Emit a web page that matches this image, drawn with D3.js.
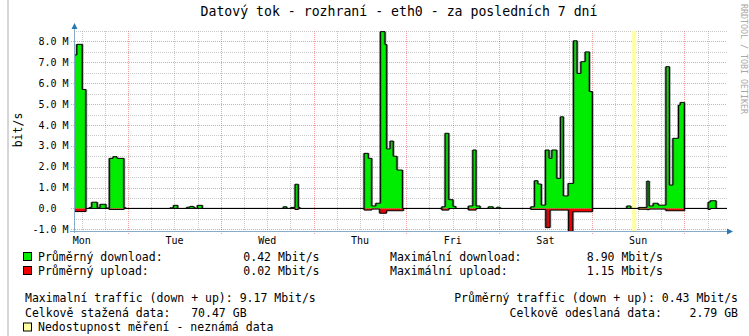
<!DOCTYPE html>
<html>
<head>
<meta charset="utf-8">
<script src="https://cdn.jsdelivr.net/npm/d3@7"></script>
<style>
  html, body { margin: 0; padding: 0; background: #ffffff; }
  svg { display: block; font-family: "DejaVu Sans Mono", monospace; }
  text { white-space: pre; }
</style>
</head>
<body>
<svg id="chart" width="749" height="336"></svg>
<script>
// Traffic on eth0 over the last 7 days, hours counted from Monday 00:00.
// Each entry is [hour, Mbit/s]; the value holds until the next entry.
const download = [
  [10.0, 7.35], [10.7, 7.86], [12.15, 5.7], [13.1, 0], [13.96, 0.05], [14.58, 0.3],
  [16.03, 0.03], [16.73, 0.2], [18.28, 0.02], [19.14, 2.4], [20.1, 2.48], [21.13, 2.4],
  [22.94, 0.03], [23.46, 0],
  [34.85, 0.03], [35.76, 0.15], [36.84, 0], [39.17, 0.06], [40.03, 0.1], [40.88, 0.06],
  [41.32, 0], [41.92, 0.15], [43.21, 0],
  [64.18, 0.08], [65.06, 0], [66.1, 0.05], [67.21, 1.16], [68.06, 0.05], [68.5, 0],
  [85.07, 2.64], [86.18, 2.4], [87.06, 0.12], [88.1, 0.25], [89.29, 8.47], [90.5, 7.85],
  [90.94, 2.85], [91.8, 3.23], [92.65, 2.5], [93.61, 1.84], [95.03, 0],
  [105.19, 0.08], [106.04, 3.6], [107.0, 0.42], [108.11, 0.1], [108.81, 0],
  [112.07, 0.12], [113.21, 2.8], [114.06, 0.12], [115.1, 0], [117.25, 0.08], [118.47, 0],
  [119.42, 0.06], [120.28, 0],
  [128.22, 0.08], [129.16, 1.33], [130.04, 1.17], [130.97, 0.16], [132.0, 2.8], [132.96, 2.4],
  [133.66, 2.8], [134.96, 1.44], [135.89, 4.39], [136.67, 0.6], [137.88, 1.2], [139.25, 8.03],
  [140.21, 6.47], [141.17, 7.03], [142.28, 7.5], [143.4, 5.6], [144.17, 0],
  [153.07, 0.12], [154.11, 0], [156.09, 0.05], [158.26, 1.31], [158.85, 0.12], [159.89, 0.25],
  [161.18, 0.16], [163.18, 6.79], [164.11, 1.12], [164.99, 3.36], [166.44, 4.95], [166.9, 5.08],
  [167.99, 0], [174.12, 0.3], [174.64, 0.37], [176.19, 0]
];

const upload = [
  [10.0, 0.15], [13.1, 0], [19.14, 0.05], [22.94, 0],
  [67.21, 0.05], [68.06, 0],
  [85.07, 0.08], [87.06, 0.03], [89.12, 0.23], [90.86, 0.11], [95.24, 0],
  [105.19, 0.08], [107.0, 0], [112.07, 0.08], [114.06, 0],
  [128.22, 0.05], [132.1, 0.92], [133.2, 0.08], [138.0, 1.15], [139.1, 0.16], [144.17, 0],
  [156.09, 0.04], [158.26, 0.06], [158.85, 0.03], [163.18, 0.11], [167.99, 0],
  [174.12, 0.05], [174.64, 0]
];

// Hours with no measurement
const unknown = [[154.45, 155.5]];

const dayLabels = ["Mon", "Tue", "Wed", "Thu", "Fri", "Sat", "Sun"];
const yTicks = [-1, 0, 1, 2, 3, 4, 5, 6, 7, 8];

const statLabels = {
  avgDown: "0.42 Mbit/s", avgUp: "0.02 Mbit/s",
  maxDown: "8.90 Mbit/s", maxUp: "1.15 Mbit/s",
  maxTotal: "9.17 Mbit/s", avgTotal: "0.43 Mbit/s",
  sumDown: "70.47 GB", sumUp: "2.79 GB"
};

const svg = d3.select("#chart");
const plot = { left: 74, right: 727, top: 31, bottom: 231 };

const x = d3.scaleLinear().domain([10, 179]).range([plot.left, plot.right]);
const y = d3.scaleLinear().domain([-1.08, 8.5]).range([plot.bottom, plot.top]);

const C = {
  minor: "rgba(128,128,128,0.42)",
  major: "rgba(230,0,0,0.38)",
  axis: "#86aac8",
  arrow: "#2a78b2",
  down: "#00ec00",
  up: "#f00000",
  unknown: "#ffffa0"
};

// frame line on the left edge
svg.append("rect").attr("x", 7).attr("y", 0).attr("width", 2).attr("height", 336).attr("fill", "#d6d6d6");

// title
svg.append("text").attr("x", 399).attr("y", 16).attr("text-anchor", "middle")
  .attr("font-size", 13.2).attr("fill", "#000")
  .text("Datový tok - rozhraní - eth0 - za posledních 7 dní");

// watermark
svg.append("text").attr("transform", "translate(741,4) rotate(90)")
  .attr("font-size", 8.3).attr("fill", "#a8a8a8")
  .text("RRDTOOL / TOBI OETIKER");

// unit label
svg.append("text").attr("transform", "translate(22,130) rotate(-90)")
  .attr("text-anchor", "middle").attr("font-size", 11.5).attr("fill", "#000")
  .text("bit/s");

// grid
const grid = svg.append("g");
const px = v => Math.round(v) + 0.5;
for (let h = 12; h <= 178; h += 6) {
  const major = h % 24 === 0;
  grid.append("line")
    .attr("x1", px(x(h))).attr("x2", px(x(h)))
    .attr("y1", plot.top).attr("y2", plot.bottom + (major ? 3 : 0))
    .attr("stroke", major ? C.major : C.minor)
    .attr("stroke-dasharray", "1,1");
}
for (let v = -1; v <= 8.5; v += 0.5) {
  const major = Number.isInteger(v);
  grid.append("line")
    .attr("x1", plot.left - (major ? 3 : 0)).attr("x2", plot.right)
    .attr("y1", px(y(v))).attr("y2", px(y(v)))
    .attr("stroke", major ? C.major : C.minor)
    .attr("stroke-dasharray", "1,1");
}

// data
svg.append("clipPath").attr("id", "plotClip").append("rect")
  .attr("x", plot.left).attr("y", plot.top)
  .attr("width", plot.right - plot.left).attr("height", plot.bottom - plot.top);

const g = svg.append("g").attr("clip-path", "url(#plotClip)");

unknown.forEach(([a, b]) => {
  g.append("rect").attr("x", x(a)).attr("y", plot.top)
    .attr("width", x(b) - x(a)).attr("height", plot.bottom - plot.top)
    .attr("fill", C.unknown);
});

const extend = s => s.concat([[x.domain()[1], s[s.length - 1][1]]]);
const downPts = extend(download);
const upPts = extend(upload);

const areaDown = d3.area().curve(d3.curveStepAfter)
  .x(d => x(d[0])).y0(y(0)).y1(d => y(d[1]));
const areaUp = d3.area().curve(d3.curveStepAfter)
  .x(d => x(d[0])).y0(y(0)).y1(d => y(-d[1]));
const lineDown = d3.line().curve(d3.curveStepAfter).x(d => x(d[0])).y(d => y(d[1]));
const lineUp = d3.line().curve(d3.curveStepAfter).x(d => x(d[0])).y(d => y(-d[1]));

// soft dark edge along the vertical jumps of each series
const jumps = (pts, sign) => {
  let d = "";
  for (let i = 1; i < pts.length; i++) {
    const xx = x(pts[i][0]);
    d += `M${xx},${y(sign * pts[i - 1][1])}L${xx},${y(sign * pts[i][1])}`;
  }
  return d;
};

g.append("path").attr("d", areaDown(downPts)).attr("fill", C.down);
g.append("path").attr("d", areaUp(upPts)).attr("fill", C.up);
[jumps(downPts, 1), jumps(upPts, -1)].forEach(d => {
  g.append("path").attr("d", d).attr("fill", "none")
    .attr("stroke", "rgba(60,60,60,0.5)").attr("stroke-width", 2.6);
});
[lineDown(downPts), lineUp(upPts)].forEach(d => {
  g.append("path").attr("d", d).attr("fill", "none")
    .attr("stroke", "#000").attr("stroke-width", 1);
});

// axes
const ax = svg.append("g");
ax.append("line").attr("x1", 74.5).attr("x2", 74.5).attr("y1", plot.bottom + 2).attr("y2", 28)
  .attr("stroke", C.axis);
ax.append("path").attr("d", "M71.5,29 L74.5,23 L77.5,29 Z").attr("fill", C.arrow);
ax.append("line").attr("x1", 70).attr("x2", 728).attr("y1", plot.bottom + 0.5).attr("y2", plot.bottom + 0.5)
  .attr("stroke", C.axis);
ax.append("path").attr("d", `M727,${plot.bottom - 2.5} L733,${plot.bottom + 0.5} L727,${plot.bottom + 3.5} Z`)
  .attr("fill", C.arrow);

// y tick labels
svg.append("g").selectAll("text").data(yTicks).join("text")
  .attr("x", 68.5).attr("y", d => y(d) + 3.6)
  .attr("text-anchor", "end").attr("font-size", 10).attr("fill", "#000")
  .text(d => d === 0 ? "0.0  " : d.toFixed(1) + " M");

// day labels at noon
svg.append("g").selectAll("text").data(dayLabels).join("text")
  .attr("x", (d, i) => x(12 + 24 * i)).attr("y", 243.5)
  .attr("text-anchor", "middle").attr("font-size", 10).attr("fill", "#000")
  .text(d => d);

// legend
const L = svg.append("g").attr("font-size", 11.5).attr("fill", "#000");
const box = (yy, fill) => L.append("rect").attr("x", 23.5).attr("y", yy + 0.5)
  .attr("width", 8).attr("height", 8).attr("fill", fill).attr("stroke", "#000");
const txt = (xx, yy, s, anchor) => L.append("text").attr("x", xx).attr("y", yy)
  .attr("text-anchor", anchor || "start").text(s);

box(252, C.down);
txt(38, 261, "Průměrný download:");
txt(319.5, 261, statLabels.avgDown, "end");
txt(390, 261, "Maximální download:");
txt(663, 261, statLabels.maxDown, "end");

box(266, C.up);
txt(38, 275, "Průměrný upload:");
txt(319.5, 275, statLabels.avgUp, "end");
txt(390, 275, "Maximální upload:");
txt(663, 275, statLabels.maxUp, "end");

txt(25, 302, "Maximalní traffic (down + up): " + statLabels.maxTotal);
txt(738, 302, "Průměrný traffic (down + up): " + statLabels.avgTotal, "end");

txt(25, 316.5, "Celkově stažená data:   " + statLabels.sumDown);
txt(738, 316.5, "Celkově odeslaná data:    " + statLabels.sumUp, "end");

box(322.5, C.unknown);
txt(38, 331, "Nedostupnost měření - neznámá data");
</script>
</body>
</html>
